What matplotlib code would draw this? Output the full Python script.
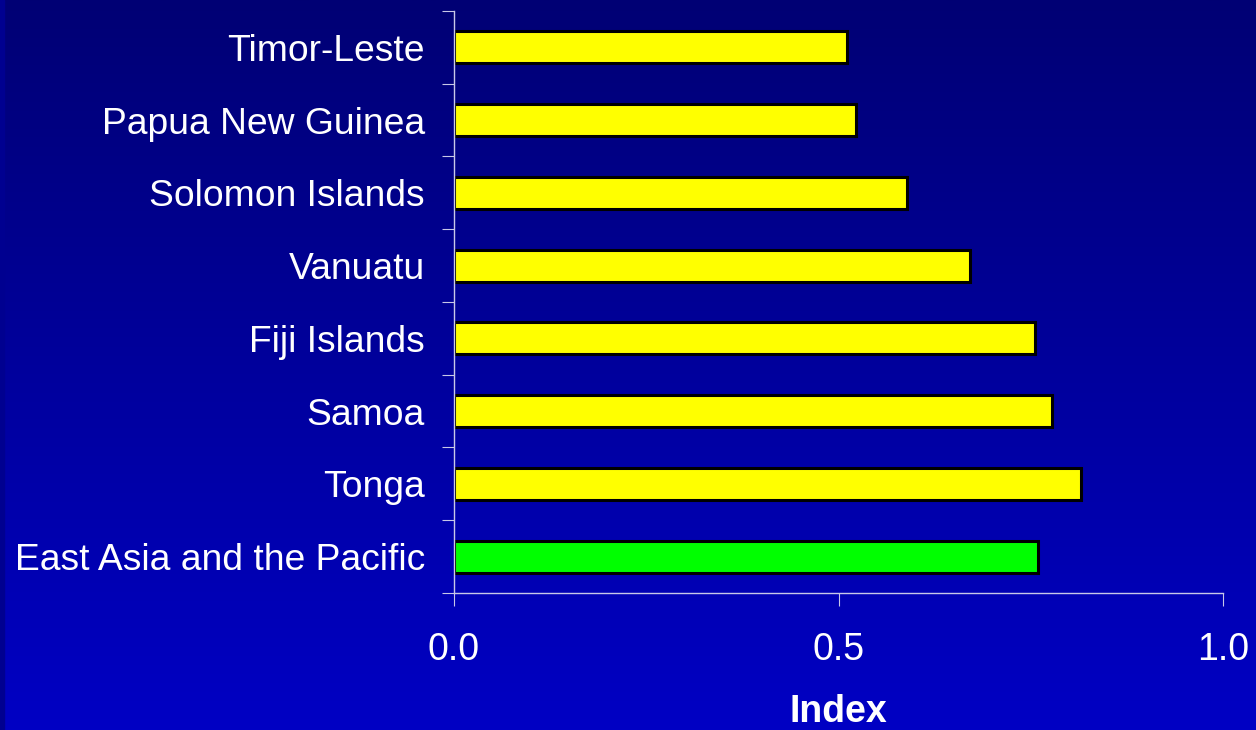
import numpy as np
from matplotlib import pyplot as plt
from matplotlib import font_manager
from matplotlib.colors import LinearSegmentedColormap

countries = ["Timor-Leste", "Papua New Guinea", "Solomon Islands", "Vanuatu",
             "Fiji Islands", "Samoa", "Tonga", "East Asia and the Pacific"]
index_vals = [0.511, 0.523, 0.589, 0.671, 0.756, 0.778, 0.815, 0.759]
bar_cols = ['#FFFF00'] * 7 + ['#00FF00']
xticks = [0.0, 0.5, 1.0]
xtick_labels = ["0.0", "0.5", "1.0"]

names = {f.name for f in font_manager.fontManager.ttflist}
narrow = 'Liberation Sans Narrow' if 'Liberation Sans Narrow' in names else 'Liberation Sans'

fig = plt.figure(figsize=(12.56, 7.30), dpi=100)

# background gradient
bg = fig.add_axes([0, 0, 1, 1], zorder=-10)
grad = np.linspace(0, 1, 256).reshape(-1, 1)
cmap = LinearSegmentedColormap.from_list('bg', ['#000074', '#0000C4'])
bg.imshow(grad, aspect='auto', cmap=cmap, extent=[0, 1, 0, 1], origin='upper')
bg.axvspan(0, 0.0035, color='#000090')
bg.set_xlim(0, 1)
bg.set_ylim(0, 1)
bg.axis('off')

ax = fig.add_axes([0.3615, 0.1877, 0.6122, 0.7973])
ax.patch.set_alpha(0)
y = np.arange(len(countries))
ax.barh(y, index_vals, height=0.44, color=bar_cols, edgecolor='black', linewidth=2.2)
ax.set_ylim(len(countries) - 0.5, -0.5)
ax.set_xlim(0, 1.0)

spine_col = '#C8C8E8'
for s in ['top', 'right']:
    ax.spines[s].set_visible(False)
for s in ['left', 'bottom']:
    ax.spines[s].set_color(spine_col)
    ax.spines[s].set_linewidth(1.0)

# ticks sit between categories, labels in the middle
ax.set_yticks(np.arange(len(countries) + 1) - 0.5)
ax.set_yticklabels([])
ax.set_yticks(y, minor=True)
ax.set_yticklabels(countries, minor=True, fontsize=26.8, color='white', family='Liberation Sans')
ax.tick_params(axis='y', which='major', length=9, color=spine_col, direction='out')
ax.tick_params(axis='y', which='minor', length=0, pad=21)

ax.set_xticks(xticks)
ax.set_xticklabels(xtick_labels, fontsize=27, color='white', family=narrow)
ax.tick_params(axis='x', length=9, color=spine_col, direction='out', pad=19)

ax.set_xlabel('Index', fontsize=27, color='white', fontweight='bold', family=narrow, labelpad=19)

fig.savefig('out.png', dpi=100)
